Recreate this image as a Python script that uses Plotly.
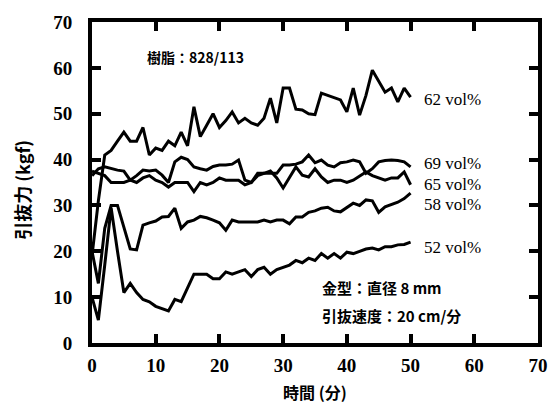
import plotly.graph_objects as go

minutes = list(range(0, 51))

v52 = [10, 5, 17, 29.5, 20, 11, 13, 11, 9.5, 9, 8, 7.5, 7, 9.5, 9, 12, 15, 15, 15, 14,
       14, 15.5, 15, 15.5, 16, 14.5, 16, 16.5, 15, 16, 16.5, 17, 18, 17.5, 18.5, 18, 19.5, 18.5, 19.5, 18.5,
       19.8, 19.5, 20, 20.5, 20.7, 20.3, 21, 21, 21.4, 21.5, 22]
v58 = [20, 13, 25, 30, 30, 25, 20.5, 20.3, 25.7, 26.2, 26.6, 27.5, 27.6, 29.4, 25, 26.4, 26.8, 27.6, 27.3, 26.8,
       26.2, 24.6, 26.8, 26.4, 26.4, 26.4, 26.4, 26.8, 26.4, 26.8, 26.8, 26, 27.5, 27.5, 28.5, 28.8, 29.4, 29.6, 28.8, 28.6,
       29.5, 30.5, 30, 31.2, 31, 28.5, 29.7, 30.2, 30.7, 31.5, 32.7]
v62 = [19, 31, 41, 42, 44, 46, 44, 44, 47, 41, 42.5, 42, 44, 43, 46, 43, 51.5, 45, 47.5, 50,
       47, 48.5, 50.4, 48, 49, 48, 47.5, 49, 53.4, 48, 55.6, 55.6, 51, 50.8, 50, 49.8, 54.5, 54, 53.5, 53,
       50.4, 55.6, 49.7, 54, 59.5, 57, 54.7, 55.6, 52.6, 55.6, 53.6]
v65 = [37.5, 37, 36.5, 35, 35, 35, 35.5, 35, 36, 36.5, 35.5, 35, 34, 35, 35, 35, 33, 35, 34.5, 35,
       36, 35.5, 35.5, 35.5, 34.5, 35, 37, 37, 37.5, 36, 33.8, 36.2, 38.4, 36.6, 36.2, 38, 36.2, 35, 35.5, 35.5,
       35, 35.5, 36.5, 37.3, 36.5, 36, 35.5, 36, 36, 37.3, 34.5]
v69 = [36.5, 38, 38.4, 38, 37.7, 37.5, 35.5, 36.5, 37.7, 37.5, 37.7, 36.6, 35, 39.5, 40.5, 40, 38.4, 38, 37.7, 38.5,
       38.8, 38.8, 39, 39.9, 35.5, 35, 36.5, 37, 37, 37, 38.8, 38.8, 39, 39.5, 41, 39.3, 39.9, 38.8, 38.4, 39.3,
       39.5, 39.9, 39.5, 37, 38, 39.5, 39.8, 39.9, 39.8, 39.5, 38.4]

series = [("52 vol%", v52, 20.9), ("58 vol%", v58, 30.1), ("62 vol%", v62, 53.0),
          ("65 vol%", v65, 34.5), ("69 vol%", v69, 39.2)]

x_ticks = [0, 10, 20, 30, 40, 50, 60, 70]
y_ticks = [0, 10, 20, 30, 40, 50, 60, 70]

SERIF = "Liberation Serif, Noto Sans CJK JP"
CJK = "Noto Sans CJK JP, Liberation Serif"

fig = go.Figure()
for name, vals, _ in series:
    fig.add_trace(go.Scatter(x=minutes, y=vals, mode="lines", name=name,
                             line=dict(color="black", width=3), showlegend=False))

annotations = []
for name, vals, ylab in series:
    annotations.append(dict(x=51.8, y=ylab, xref="x", yref="y", text=name, showarrow=False,
                            xanchor="left", yanchor="middle",
                            font=dict(family=SERIF, size=17, color="black")))
annotations += [
    dict(x=8.3, y=62.4, xref="x", yref="y", text="<b>樹脂：828/113</b>", showarrow=False,
         xanchor="left", yanchor="middle", font=dict(family=CJK, size=14, color="black")),
    dict(x=35.8, y=12, xref="x", yref="y", text="<b>金型：直径 8 mm</b>", showarrow=False,
         xanchor="left", yanchor="middle", font=dict(family=CJK, size=15, color="black")),
    dict(x=35.8, y=6.1, xref="x", yref="y", text="<b>引抜速度：20 cm/分</b>", showarrow=False,
         xanchor="left", yanchor="middle", font=dict(family=CJK, size=15, color="black")),
    dict(x=0.5, y=-0.152, xref="paper", yref="paper", text="<b>時間 (分)</b>", showarrow=False,
         xanchor="center", yanchor="middle", font=dict(family=CJK, size=16, color="black")),
    dict(x=-0.157, y=0.477, xref="paper", yref="paper", text="<b>引抜力 (kgf)</b>", showarrow=False,
         textangle=-90, xanchor="center", yanchor="middle",
         font=dict(family=CJK, size=18, color="black")),
]

axis_common = dict(showline=True, linecolor="black", linewidth=4, mirror="ticks",
                   ticks="inside", ticklen=9, tickwidth=4, tickcolor="black",
                   showgrid=False, zeroline=False, automargin=False,
                   tickfont=dict(family="Liberation Serif", size=19, color="black"))

fig.update_layout(
    width=552, height=404,
    margin=dict(l=92, r=14, t=22, b=61),
    paper_bgcolor="white", plot_bgcolor="white",
    annotations=annotations,
    xaxis=dict(range=[0, 70], tickvals=x_ticks, ticktext=["<b>%d</b>" % v for v in x_ticks],
               ticklabelstandoff=2, **axis_common),
    yaxis=dict(range=[0, 70], tickvals=y_ticks, ticktext=["<b>%d</b>" % v for v in y_ticks],
               ticklabelstandoff=12, **axis_common),
)

fig.write_html("out.html")
